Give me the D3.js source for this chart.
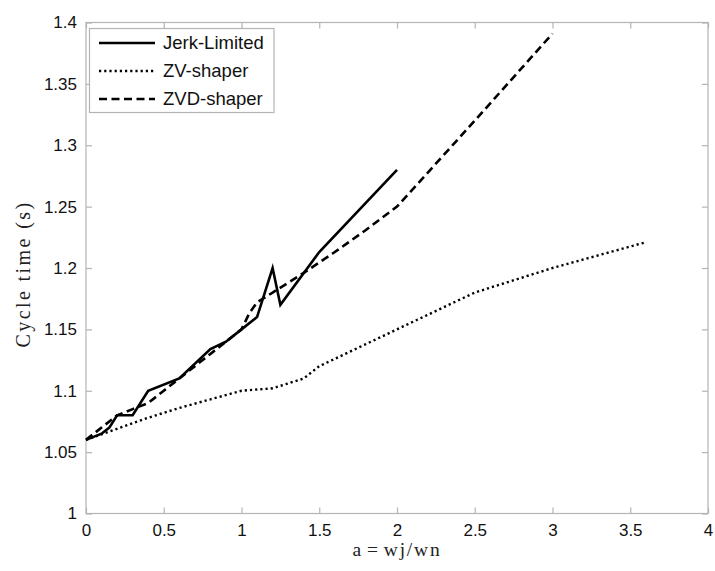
<!DOCTYPE html>
<html>
<head>
<meta charset="utf-8">
<script src="https://cdn.jsdelivr.net/npm/d3@7/dist/d3.min.js"></script>
<style>
  html, body { margin: 0; padding: 0; background: #fff; }
  svg { display: block; }
  .tick text { font-family: "Liberation Sans", Arial, sans-serif; font-size: 17px; fill: #111; }
  .axis path, .axis line { stroke: #b4b4b4; stroke-width: 1.2; }
</style>
</head>
<body>
<svg id="chart" width="715" height="571"></svg>
<script>
// Cycle time versus frequency ratio a = wj/wn for three motion profiles
const jerkX = [0, 0.1, 0.15, 0.2, 0.3, 0.4, 0.6, 0.8, 0.9, 1.0, 1.1, 1.2, 1.25, 1.5, 2.0];
const jerkY = [1.06, 1.065, 1.07, 1.08, 1.08, 1.1, 1.11, 1.134, 1.14, 1.15, 1.16, 1.2, 1.17, 1.213, 1.28];

const zvX = [0, 0.2, 0.4, 0.6, 0.8, 1.0, 1.2, 1.4, 1.5, 2.0, 2.5, 3.0, 3.6];
const zvY = [1.06, 1.069, 1.078, 1.086, 1.093, 1.1, 1.102, 1.11, 1.12, 1.15, 1.18, 1.2, 1.221];

const zvdX = [0, 0.1, 0.2, 0.3, 0.4, 0.5, 0.6, 0.8, 1.0, 1.05, 1.1, 1.2, 1.4, 1.6, 1.8, 2.0, 2.5, 3.0];
const zvdY = [1.06, 1.07, 1.08, 1.085, 1.09, 1.1, 1.11, 1.13, 1.15, 1.163, 1.172, 1.18, 1.196, 1.213, 1.231, 1.25, 1.32, 1.391];

const xTicks = [0, 0.5, 1, 1.5, 2, 2.5, 3, 3.5, 4];
const yTicks = [1, 1.05, 1.1, 1.15, 1.2, 1.25, 1.3, 1.35, 1.4];

const seriesNames = ["Jerk-Limited", "ZV-shaper", "ZVD-shaper"];

const plot = { left: 86, right: 708, top: 22.5, bottom: 513.5 };

const svg = d3.select("#chart");

const x = d3.scaleLinear().domain([0, 4]).range([plot.left, plot.right]);
const y = d3.scaleLinear().domain([1, 1.4]).range([plot.bottom, plot.top]);

const fmt = d => String(+d.toFixed(2));

// Frame
svg.append("rect")
  .attr("x", plot.left).attr("y", plot.top)
  .attr("width", plot.right - plot.left).attr("height", plot.bottom - plot.top)
  .attr("fill", "none").attr("stroke", "#b4b4b4").attr("stroke-width", 1.2);

// Axes with inward ticks on all four sides
const tickLen = 6;
svg.append("g").attr("class", "axis")
  .attr("transform", `translate(0,${plot.bottom})`)
  .call(d3.axisBottom(x).tickValues(xTicks).tickFormat(fmt).tickSize(-tickLen).tickPadding(10))
  .call(g => g.select(".domain").remove());
svg.append("g").attr("class", "axis")
  .attr("transform", `translate(0,${plot.top})`)
  .call(d3.axisTop(x).tickValues(xTicks).tickFormat("").tickSize(-tickLen))
  .call(g => g.select(".domain").remove());
svg.append("g").attr("class", "axis")
  .attr("transform", `translate(${plot.left},0)`)
  .call(d3.axisLeft(y).tickValues(yTicks).tickFormat(fmt).tickSize(-tickLen).tickPadding(9))
  .call(g => g.select(".domain").remove());
svg.append("g").attr("class", "axis")
  .attr("transform", `translate(${plot.right},0)`)
  .call(d3.axisRight(y).tickValues(yTicks).tickFormat("").tickSize(-tickLen))
  .call(g => g.select(".domain").remove());

// Series
const line = d3.line().x(d => x(d[0])).y(d => y(d[1]));
const styles = [
  { width: 2.6, dash: null },
  { width: 2.4, dash: "2.2,3" },
  { width: 2.6, dash: "8,4.5" }
];
const data = [
  d3.zip(jerkX, jerkY),
  d3.zip(zvX, zvY),
  d3.zip(zvdX, zvdY)
];
[2, 1, 0].forEach(i => {
  svg.append("path")
    .datum(data[i])
    .attr("d", line)
    .attr("fill", "none")
    .attr("stroke", "#000")
    .attr("stroke-width", styles[i].width)
    .attr("stroke-linejoin", "miter")
    .attr("stroke-dasharray", styles[i].dash);
});

// Legend
const legend = svg.append("g");
legend.append("rect")
  .attr("x", 89.5).attr("y", 28.5).attr("width", 184.5).attr("height", 84)
  .attr("fill", "#fff").attr("stroke", "#b4b4b4").attr("stroke-width", 1.2);
seriesNames.forEach((name, i) => {
  const cy = 43 + i * 28;
  legend.append("line")
    .attr("x1", 99).attr("x2", 155).attr("y1", cy).attr("y2", cy)
    .attr("stroke", "#000").attr("stroke-width", styles[i].width)
    .attr("stroke-dasharray", styles[i].dash);
  legend.append("text")
    .attr("x", 163).attr("y", cy).attr("dy", "0.35em")
    .style("font-family", "'Liberation Sans', Arial, sans-serif")
    .style("font-size", "18.5px").style("fill", "#111")
    .text(name);
});

// Axis titles
const xTitle = svg.append("text")
  .attr("x", 397).attr("y", 556)
  .attr("text-anchor", "middle")
  .style("font-family", "'Liberation Serif', 'Times New Roman', serif")
  .style("font-size", "19.5px").style("letter-spacing", "1.8px").style("fill", "#222");
xTitle.append("tspan").text("a");
xTitle.append("tspan").attr("dx", 4).text("=");
xTitle.append("tspan").attr("dx", 4).text("wj/wn");

svg.append("text")
  .attr("transform", `translate(30,${(plot.top + plot.bottom) / 2 + 6}) rotate(-90)`)
  .attr("text-anchor", "middle")
  .style("font-family", "'Liberation Serif', 'Times New Roman', serif")
  .style("font-size", "20px").style("letter-spacing", "2.4px").style("fill", "#222")
  .text("Cycle time (s)");
</script>
</body>
</html>
